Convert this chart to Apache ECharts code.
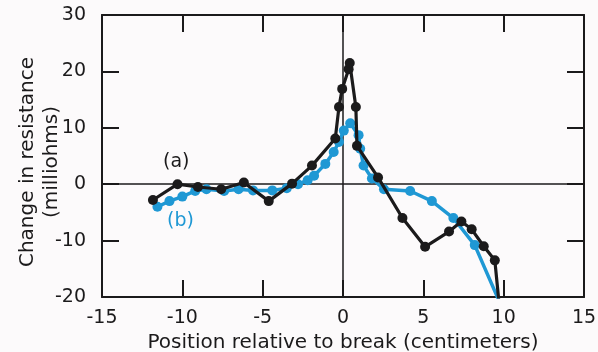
<!DOCTYPE html>
<html>
<head>
<meta charset="utf-8">
<script src="https://cdn.jsdelivr.net/npm/echarts@6/dist/echarts.min.js"></script>
<style>
html,body{margin:0;padding:0;background:#fcfafb;}
#chart{width:598px;height:352px;}
</style>
</head>
<body>
<div id="chart"></div>
<script>
// Series (a): black
const seriesA_x = [-11.83, -10.3, -9.03, -7.58, -6.17, -4.62, -3.17, -1.93, -0.48, -0.25, -0.05, 0.35, 0.42, 0.8, 0.87, 2.18, 3.7, 5.11, 6.6, 7.37, 8.01, 8.76, 9.45, 9.71];
const seriesA_y = [-2.8, 0.0, -0.5, -0.9, 0.3, -3.0, 0.1, 3.3, 8.1, 13.7, 16.9, 20.4, 21.5, 13.7, 6.8, 1.2, -6.0, -11.1, -8.4, -6.6, -8.0, -11.0, -13.5, -21];
// Series (b): blue
const seriesB_x = [-11.55, -10.8, -10.0, -9.2, -8.5, -7.4, -6.5, -5.6, -4.4, -3.5, -2.8, -2.2, -1.8, -1.1, -0.58, -0.25, 0.05, 0.45, 0.97, 1.07, 1.28, 1.8, 2.55, 4.18, 5.53, 6.87, 8.2, 9.76];
const seriesB_y = [-4.0, -3.0, -2.2, -1.2, -0.9, -1.2, -0.9, -1.1, -1.1, -0.7, 0.0, 0.7, 1.5, 3.6, 5.7, 7.5, 9.5, 10.8, 8.7, 6.3, 3.3, 1.0, -0.9, -1.2, -3.0, -6.0, -10.8, -21];
const xTicks = [-15, -10, -5, 0, 5, 10, 15];
const yTicks = [-20, -10, 0, 10, 20, 30];
const yAxisTitle = 'Change in resistance\n(milliohms)';
const xAxisTitle = 'Position relative to break (centimeters)';

const BLACK = '#1b1a1b';
const BLUE = '#1f98d4';
const FONT = 'DejaVu Sans';

const pairs = (xs, ys) => xs.map((x, i) => [x, ys[i]]);

const chart = echarts.init(document.getElementById('chart'), null, {renderer: 'canvas'});

const axisCommon = {
  axisLine: {show: true, onZero: false, lineStyle: {color: BLACK, width: 2}},
  axisTick: {show: true, inside: true, length: 17, lineStyle: {color: BLACK, width: 2}},
  splitLine: {show: false}
};

chart.setOption({
  backgroundColor: '#fcfafb',
  animation: false,
  grid: {left: 102, right: 14, top: 15, bottom: 55, containLabel: false, outerBoundsMode: 'none'},
  xAxis: [
    Object.assign({
      type: 'value', position: 'bottom', min: xTicks[0], max: xTicks[xTicks.length - 1], interval: 5,
      axisLabel: {color: BLACK, fontSize: 19, fontFamily: FONT, margin: 12},
      name: xAxisTitle, nameLocation: 'middle', nameGap: 35,
      nameTextStyle: {color: BLACK, fontSize: 20, fontFamily: FONT}
    }, axisCommon),
    Object.assign({
      type: 'value', position: 'top', min: xTicks[0], max: xTicks[xTicks.length - 1], interval: 5,
      axisLabel: {show: false}
    }, axisCommon)
  ],
  yAxis: [
    Object.assign({
      type: 'value', position: 'left', min: yTicks[0], max: yTicks[yTicks.length - 1], interval: 10,
      axisLabel: {color: BLACK, fontSize: 19, fontFamily: FONT, margin: 16}
    }, axisCommon),
    Object.assign({
      type: 'value', position: 'right', min: yTicks[0], max: yTicks[yTicks.length - 1], interval: 10,
      axisLabel: {show: false}
    }, axisCommon)
  ],
  series: [
    {
      type: 'line', name: '(b)', xAxisIndex: 0, yAxisIndex: 0,
      data: pairs(seriesB_x, seriesB_y),
      clip: true,
      symbol: 'circle', symbolSize: 10,
      lineStyle: {color: BLUE, width: 3.5},
      itemStyle: {color: BLUE},
      z: 2
    },
    {
      type: 'line', name: '(a)', xAxisIndex: 0, yAxisIndex: 0,
      data: pairs(seriesA_x, seriesA_y),
      clip: true,
      symbol: 'circle', symbolSize: 10,
      lineStyle: {color: BLACK, width: 3.2},
      itemStyle: {color: BLACK},
      z: 3,
      markLine: {
        silent: true, symbol: 'none', label: {show: false},
        lineStyle: {color: BLACK, width: 1.5, type: 'solid'},
        data: [{xAxis: 0}, {yAxis: 0}],
        z: 1
      }
    }
  ],
  graphic: [
    {type: 'text', x: 40, y: 162, rotation: Math.PI / 2,
     style: {text: yAxisTitle, fill: BLACK, fontSize: 20, fontFamily: FONT, lineHeight: 24, align: 'center', verticalAlign: 'middle'}},
    {type: 'text', left: 163, top: 153, style: {text: '(a)', fill: BLACK, fontSize: 19, fontFamily: FONT}},
    {type: 'text', left: 167, top: 212, style: {text: '(b)', fill: BLUE, fontSize: 19, fontFamily: FONT}}
  ]
});
</script>
</body>
</html>
